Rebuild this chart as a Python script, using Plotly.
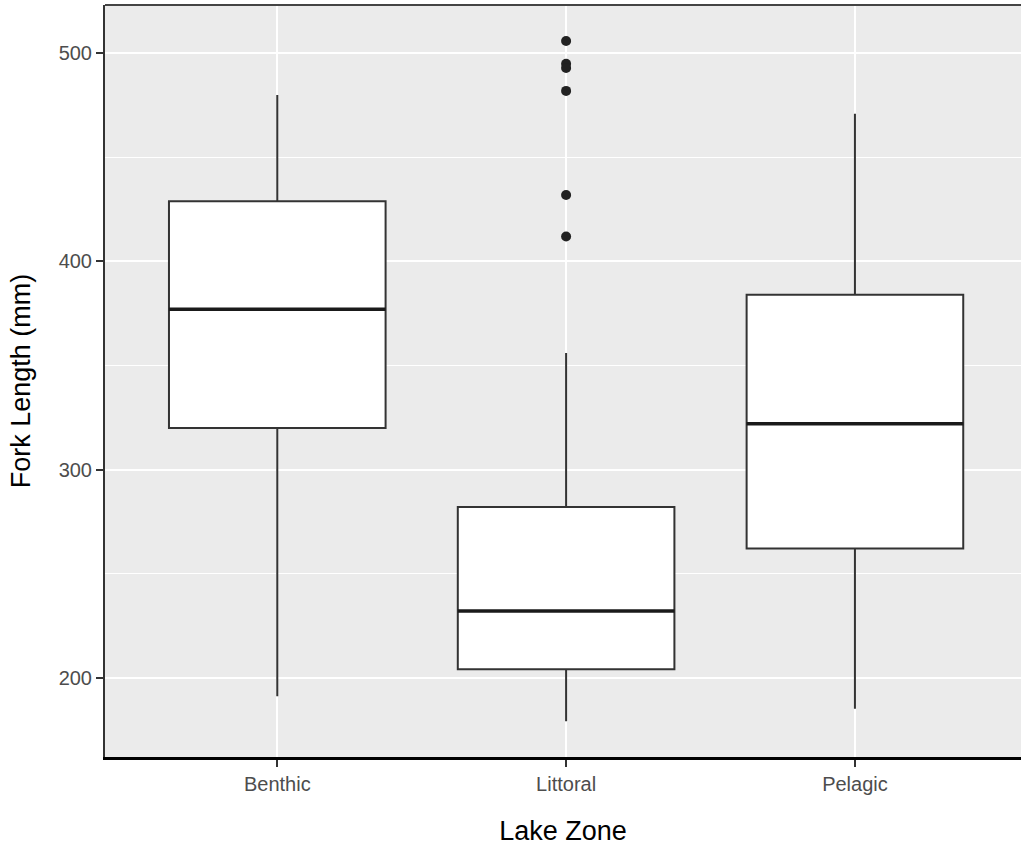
import plotly.graph_objects as go

# Fork length summaries per lake zone (mm)
zones = ["Benthic", "Littoral", "Pelagic"]
lower_whisker = [191, 179, 185]
q1 = [320, 204, 262]
median = [377, 232, 322]
q3 = [429, 282, 384]
upper_whisker = [480, 356, 471]

# Points beyond the whiskers (Littoral only)
outlier_zone = ["Littoral"] * 6
outlier_length = [506, 495, 493, 482, 432, 412]

pos = {z: i for i, z in enumerate(zones)}
box_width = 0.75

fig = go.Figure()

for i, z in enumerate(zones):
    fig.add_trace(go.Box(
        x=[i],
        q1=[q1[i]], median=[median[i]], q3=[q3[i]],
        lowerfence=[lower_whisker[i]], upperfence=[upper_whisker[i]],
        width=box_width,
        whiskerwidth=0,
        fillcolor="white",
        line=dict(color="#333333", width=2),
        boxpoints=False,
        showlegend=False,
        hoverinfo="skip",
    ))
    # heavier median bar, as ggplot draws it
    fig.add_trace(go.Scatter(
        x=[i - box_width / 2, i + box_width / 2],
        y=[median[i], median[i]],
        mode="lines",
        line=dict(color="#1a1a1a", width=3.5),
        showlegend=False,
        hoverinfo="skip",
    ))

fig.add_trace(go.Scatter(
    x=[pos[z] for z in outlier_zone],
    y=outlier_length,
    mode="markers",
    marker=dict(color="#222222", size=10),
    showlegend=False,
))

fig.update_layout(
    width=1021, height=853,
    margin=dict(l=105, r=0, t=5, b=96),
    paper_bgcolor="white",
    plot_bgcolor="#ebebeb",
    font=dict(family="Liberation Sans, Arial, sans-serif"),
)

fig.update_xaxes(
    range=[-0.5965, 2.575],
    tickvals=list(range(len(zones))),
    ticktext=zones,
    tickfont=dict(size=20, color="#4d4d4d"),
    ticks="outside", ticklen=7, tickwidth=2, tickcolor="#333333",
    showgrid=True, gridcolor="white", gridwidth=2,
    zeroline=False,
    showline=True, linecolor="black", linewidth=3,
    title=dict(text="Lake Zone", font=dict(size=27, color="black"), standoff=28),
)

fig.update_yaxes(
    range=[161.8, 523.3],
    tickvals=[200, 300, 400, 500],
    tickfont=dict(size=20, color="#4d4d4d"),
    ticks="outside", ticklen=7, tickwidth=2, tickcolor="#333333",
    showgrid=True, gridcolor="white", gridwidth=2,
    minor=dict(tickvals=[250, 350, 450], showgrid=True, gridcolor="white", gridwidth=1),
    zeroline=False,
    showline=True, linecolor="#333333", linewidth=2,
    title=dict(text="Fork Length (mm)", font=dict(size=27, color="black"), standoff=20),
)

# panel top edge
fig.add_shape(type="line", xref="paper", yref="paper", x0=0, x1=1, y0=1, y1=1,
              line=dict(color="#444444", width=2))

fig.write_html("out.html")
